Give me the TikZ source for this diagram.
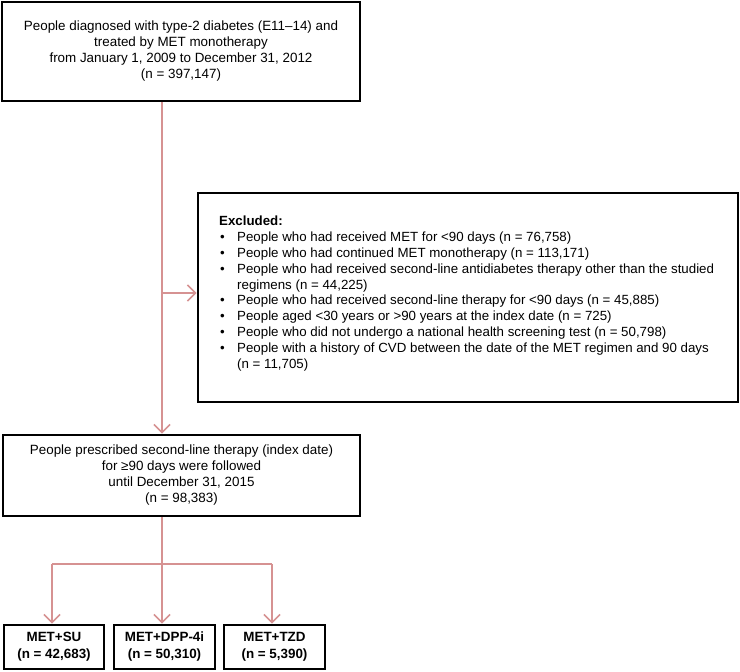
\documentclass[tikz,border=0pt]{standalone}
\usepackage{fontspec}
\setmainfont{Liberation Sans}
\usetikzlibrary{arrows.meta}
\definecolor{arrowc}{RGB}{214,146,146}
\begin{document}
\begin{tikzpicture}[x=1pt,y=-1pt,
  box/.style={draw=black, line width=2.8pt, inner sep=0pt, fill=white, align=center,
    font=\fontsize{13.4}{16}\selectfont},
  bbox/.style={box, font=\fontsize{13.4}{17}\selectfont\bfseries},
  flow/.style={draw=arrowc, line width=1.6pt},
  arr/.style={flow, -{Straight Barb[length=8pt,width=16pt,line width=1.6pt]}}
]
\useasboundingbox (0,0) rectangle (740,672);
\node[box, minimum width=358pt, minimum height=99pt] (top) at (181,51.5)
  {People diagnosed with type-2 diabetes (E11–14) and\\treated by MET monotherapy\\from January 1, 2009 to December 31, 2012\\(n = 397,147)};
\node[box, minimum width=540pt, minimum height=209pt] (excl) at (468,297.5) {};
\node[anchor=north west, inner sep=0pt, align=left, font=\fontsize{13.3}{15.8}\selectfont] (excltext) at (219,216)
  {\textbf{Excluded:}\\
   \makebox[18pt][l]{\hspace{1pt}•}People who had received MET for <90 days (n = 76,758)\\
   \makebox[18pt][l]{\hspace{1pt}•}People who had continued MET monotherapy (n = 113,171)\\
   \makebox[18pt][l]{\hspace{1pt}•}People who had received second-line antidiabetes therapy other than the studied\\
   \hspace*{18pt}regimens (n = 44,225)\\
   \makebox[18pt][l]{\hspace{1pt}•}People who had received second-line therapy for <90 days (n = 45,885)\\
   \makebox[18pt][l]{\hspace{1pt}•}People aged <30 years or >90 years at the index date (n = 725)\\
   \makebox[18pt][l]{\hspace{1pt}•}People who did not undergo a national health screening test (n = 50,798)\\
   \makebox[18pt][l]{\hspace{1pt}•}People with a history of CVD between the date of the MET regimen and 90 days\\
   \hspace*{18pt}(n = 11,705)};
\node[box, minimum width=357pt, minimum height=81pt] (mid) at (181.5,475.5)
  {People prescribed second-line therapy (index date)\\for ≥90 days were followed\\until December 31, 2015\\(n = 98,383)};
\node[bbox, minimum width=100pt, minimum height=44pt] (b1) at (54,647) {MET+SU\\(n = 42,683)};
\node[bbox, minimum width=101pt, minimum height=44pt] (b2) at (164.5,647) {MET+DPP-4i\\(n = 50,310)};
\node[bbox, minimum width=101pt, minimum height=44pt] (b3) at (274.5,647) {MET+TZD\\(n = 5,390)};
\coordinate (mx) at (162,0);
\coordinate (side) at (162,293);
\coordinate (jl) at (52,564);
\coordinate (jc) at (162,564);
\coordinate (jr) at (272,564);
\draw[arr] (mx |- top.south) -- (mx |- mid.north);
\draw[arr] (side) -- (excl.west |- side);
\draw[flow] (mx |- mid.south) -- (jc);
\draw[flow] (jl) -- (jr);
\draw[arr] (jl) -- (jl |- b1.north);
\draw[arr] (jc) -- (jc |- b2.north);
\draw[arr] (jr) -- (jr |- b3.north);
\end{tikzpicture}
\end{document}
